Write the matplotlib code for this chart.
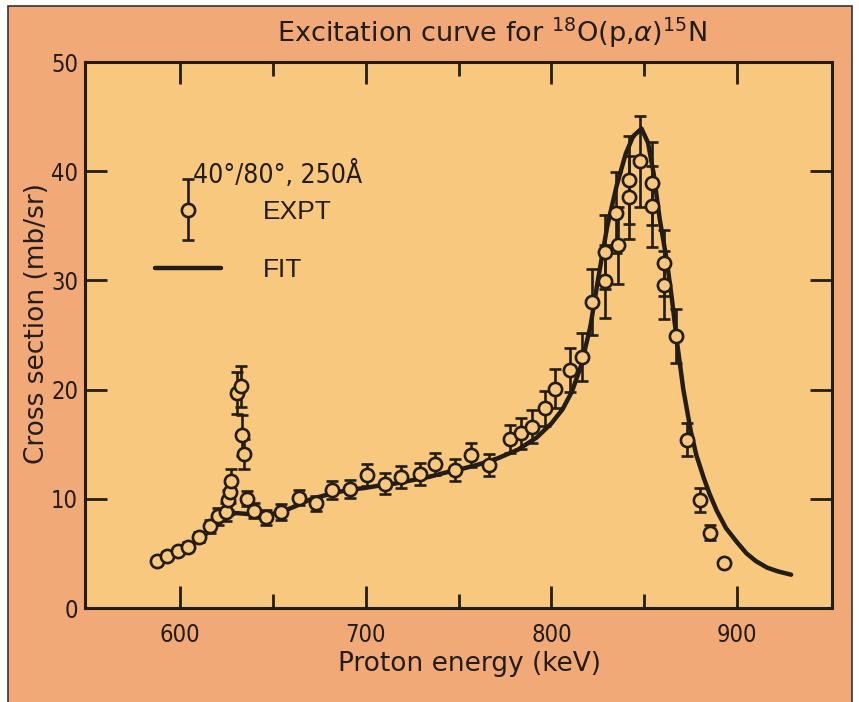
import matplotlib
matplotlib.use("Agg")
import matplotlib.pyplot as plt
from matplotlib.patches import Rectangle
from matplotlib.container import ErrorbarContainer
from matplotlib.legend_handler import HandlerErrorbar
from matplotlib import font_manager
from matplotlib.font_manager import FontProperties

# ---------------- data ----------------
expt_energy = [587.7, 593.0, 598.9, 604.3, 610.4, 616.4, 620.8, 625.0, 626.2, 626.8,
               627.8, 631.0, 633.0, 633.7, 634.3, 636.4, 640.1, 646.3, 654.5, 664.2,
               673.3, 681.8, 691.4, 700.5, 710.7, 719.3, 729.4, 737.4, 748.1, 756.7,
               766.3, 777.5, 783.4, 789.8, 796.3, 802.1, 810.2, 816.6, 821.9, 828.9,
               828.9, 834.8, 835.8, 841.7, 841.7, 847.9, 854.0, 854.3, 860.8, 860.8,
               867.2, 872.7, 879.7, 885.6, 893.0]
expt_xsec = [4.3, 4.8, 5.2, 5.6, 6.5, 7.5, 8.4, 8.8, 9.9, 10.6,
             11.6, 19.7, 20.3, 15.8, 14.1, 10.0, 8.9, 8.3, 8.8, 10.1,
             9.6, 10.8, 10.9, 12.2, 11.4, 12.0, 12.3, 13.2, 12.6, 14.0,
             13.1, 15.5, 16.0, 16.6, 18.3, 20.1, 21.8, 23.0, 28.0, 29.9,
             32.6, 36.2, 33.2, 37.6, 39.2, 40.9, 36.8, 38.9, 29.6, 31.6,
             24.9, 15.4, 9.9, 6.9, 4.1]
expt_err = [0.3, 0.3, 0.3, 0.4, 0.5, 0.6, 0.8, 0.8, 0.9, 1.0,
            1.1, 1.9, 1.9, 1.9, 1.4, 0.7, 0.7, 0.7, 0.7, 0.7,
            0.7, 0.8, 0.8, 1.0, 1.0, 1.0, 1.0, 1.0, 1.0, 1.1,
            1.0, 1.3, 1.4, 1.5, 1.6, 1.8, 2.0, 2.2, 3.0, 3.3,
            3.4, 3.7, 3.5, 3.8, 4.0, 4.2, 3.7, 3.8, 3.1, 3.0,
            2.5, 1.5, 1.1, 0.7, 0.0]

fit_energy = [588, 595, 600, 605, 610, 615, 620, 625, 630, 637, 645, 653, 662, 671,
              680, 690, 700, 707, 716, 725, 734, 743, 752, 760, 771, 782, 792, 800,
              806, 811, 816, 821, 825, 830, 835, 840, 844, 848.5, 852, 855, 858.3,
              862, 864.7, 867.4, 871, 875, 878, 882, 885, 889, 894, 900, 905, 910,
              916, 922, 929]
fit_xsec = [4.3, 4.8, 5.15, 5.6, 6.2, 6.9, 7.6, 8.3, 8.7, 8.6, 8.5, 8.7, 9.3, 10.0,
            10.4, 10.8, 11.0, 11.2, 11.4, 11.7, 12.0, 12.4, 12.75, 13.1, 13.7, 14.5, 15.6, 16.9,
            18.2, 19.8, 22.2, 25.8, 30.0, 34.9, 38.6, 41.6, 43.2, 43.9, 42.6, 39.8, 35.6,
            31.9, 28.5, 24.6, 20.0, 16.2, 14.0, 11.9, 10.5, 8.9, 7.3, 6.0, 5.0, 4.3,
            3.7, 3.35, 3.05]

x_major = [600, 700, 800, 900]
x_minor = [650, 750, 850]
y_ticks = [0, 10, 20, 30, 40, 50]

title_text = "Excitation curve for $^{18}$O(p,$\\alpha$)$^{15}$N"
xlabel_text = "Proton energy (keV)"
ylabel_text = "Cross section (mb/sr)"
legend_note = "40\u00b0/80\u00b0, 250\u00c5"
legend_labels = ["EXPT", "FIT"]

# ---------------- style ----------------
outer_bg = "#F1A978"
inner_bg = "#F8C87E"
ink = "#231d16"


def narrow_font(size):
    cands = []
    for f in font_manager.fontManager.ttflist:
        fn = f.fname.lower()
        if ("narrow" in fn or "condensed" in fn) and "bold" not in fn and "italic" not in fn \
                and "oblique" not in fn and ("sans" in fn):
            cands.append(f.fname)
    cands.sort(key=lambda p: (0 if "liberationsansnarrow" in p.lower().replace("-", "") else
                              1 if "dejavusanscondensed" in p.lower().replace("-", "") else 2))
    if cands:
        return FontProperties(fname=cands[0], size=size)
    return FontProperties(family="DejaVu Sans", size=size)


tick_fp = narrow_font(17)
note_fp = narrow_font(19)

fig = plt.figure(figsize=(8.59, 7.02), dpi=100)
fig.patch.set_facecolor("white")
fig.patches.append(Rectangle((8 / 859, -0.01), 844 / 859, 1 - 6 / 702 + 0.01,
                             transform=fig.transFigure, facecolor=outer_bg,
                             edgecolor="#333333", lw=1.2, zorder=-10))

ax = fig.add_axes([85 / 859, 1 - 608 / 702, 747 / 859, 546 / 702])
ax.set_zorder(1)
ax.set_facecolor(inner_bg)
ax.set_xlim(549, 951)
ax.set_ylim(0, 50)

fit_line, = ax.plot(fit_energy, fit_xsec, color=ink, lw=3.2, zorder=2,
                    solid_capstyle="round", solid_joinstyle="round")
eb = ax.errorbar(expt_energy, expt_xsec, yerr=expt_err, fmt="o", ms=9.5,
                 mfc=inner_bg, mec=ink, mew=1.9, ecolor=ink, elinewidth=1.9,
                 capsize=4.3, capthick=1.9, zorder=3)

for s in ax.spines.values():
    s.set_linewidth(2.2)
    s.set_color(ink)

ax.set_xticks(x_major)
ax.set_xticks(x_minor, minor=True)
ax.set_yticks(y_ticks)
ax.tick_params(axis="both", which="major", direction="in", length=16, width=2.0,
               color=ink, top=True, right=True, labelcolor=ink)
ax.tick_params(axis="x", which="major", pad=11)
ax.tick_params(axis="y", which="major", pad=5)
ax.tick_params(axis="x", which="minor", direction="in", length=10, width=2.0,
               color=ink, top=True)
for lab in ax.get_xticklabels() + ax.get_yticklabels():
    lab.set_fontproperties(tick_fp)

ax.set_xlabel(xlabel_text, fontsize=19, color=ink, family="DejaVu Sans")
ax.xaxis.set_label_coords((470 - 85) / 747, -(651 - 608) / 546)
ax.set_ylabel(ylabel_text, fontsize=19, color=ink, family="DejaVu Sans")
ax.yaxis.set_label_coords(-(85 - 50) / 747, (608 - 324) / 546)

fig.text(492 / 859, 1 - 33 / 702, title_text, ha="center", va="center",
         fontsize=19.5, color=ink, family="DejaVu Sans")

ax.text((193 - 85) / 747, (608 - 175) / 546, legend_note, transform=ax.transAxes,
        ha="left", va="center", color=ink, fontproperties=note_fp)

leg = ax.legend([eb, fit_line], legend_labels, loc="upper left",
                bbox_to_anchor=((155 - 85) / 747, (608 - 200) / 546),
                frameon=False, fontsize=19, handlelength=2.5, handletextpad=1.6,
                labelspacing=1.3, borderpad=0, borderaxespad=0,
                handler_map={ErrorbarContainer: HandlerErrorbar(xerr_size=0.5, yerr_size=1.15)})
for t in leg.get_texts():
    t.set_color(ink)
    t.set_family(["Liberation Sans", "DejaVu Sans"])

fig.savefig("out.png", dpi=100, facecolor=fig.get_facecolor())
